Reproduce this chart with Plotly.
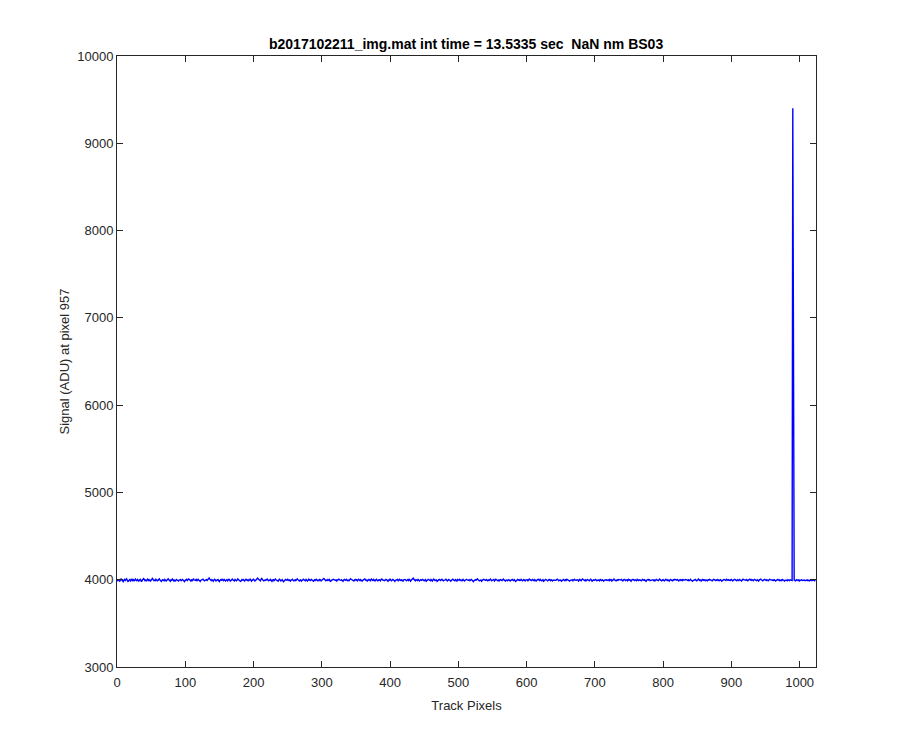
import plotly.graph_objects as go

# ---- data ----
title_text = "b2017102211_img.mat int time = 13.5335 sec \u00a0NaN nm BS03"
x_label = "Track Pixels"
y_label = "Signal (ADU) at pixel 957"

baseline_adu = 3993
# per-pixel deviation from the baseline (ADU), pixels 0..1023
deviation = [
    5,-8,12,3,-10,0,15,7,-5,-14,2,10,-3,8,17,4,-12,-6,1,10,-7,3,12,-2,6,-10,8,14,0,-5,9,2,
    -8,5,12,-3,-15,1,8,19,10,-4,3,-10,5,15,-2,7,0,-12,4,10,21,7,-3,2,-8,12,5,-5,0,9,16,4,
    -2,-12,0,8,3,-6,10,5,-8,1,12,18,7,-3,-10,5,0,14,2,-5,7,-13,-2,10,4,0,-7,3,12,8,-4,1,
    9,2,-8,-14,0,5,12,-3,7,16,10,0,-6,3,-10,7,15,5,-2,0,10,-8,4,12,2,-5,-12,1,8,4,14,2,
    -5,0,10,7,-2,12,20,27,14,5,-3,8,0,-10,4,12,3,-7,0,5,9,-5,-14,2,7,1,12,5,-3,10,0,-7,
    2,8,-5,0,12,5,-10,-3,7,14,4,0,-7,10,3,-5,5,16,7,-2,1,-12,-5,8,2,10,0,-8,4,12,3,-2,
    7,-5,2,14,5,-10,0,8,12,3,-7,-2,10,19,26,16,7,0,-5,12,21,9,3,-7,-2,5,0,10,14,4,-5,3,
    0,10,-3,-12,4,8,-5,3,14,7,-2,1,-10,5,12,3,-7,0,8,-5,-15,-8,2,10,5,0,12,7,-3,4,-8,1,
    5,12,2,-5,0,7,-3,10,17,8,1,-8,3,5,-10,-2,7,12,4,0,-5,9,3,-8,0,14,7,-2,5,10,1,-5,
    -10,3,8,0,12,5,-5,2,-3,10,7,-7,0,5,15,22,12,3,-5,1,8,-3,5,10,-8,-12,0,5,2,12,7,-2,
    0,5,-8,3,10,14,5,-3,1,7,-5,-12,2,10,5,0,12,8,-5,2,-3,9,19,12,5,-2,0,-7,4,10,3,7,
    -5,1,12,5,-3,8,2,-10,0,5,12,17,7,-2,3,-8,0,10,5,-5,7,14,2,-3,10,1,-7,4,12,3,-5,0,
    8,2,-5,10,16,5,0,-8,-3,5,12,7,1,-10,4,2,14,8,-5,0,10,5,-2,-12,0,7,3,10,-5,5,12,1,
    -3,7,0,-8,5,14,10,3,-5,1,8,-2,12,5,-10,0,5,16,24,12,3,-5,7,0,-3,10,4,-7,2,8,0,5,
    10,1,-5,3,8,-10,-2,5,12,7,0,-5,10,2,-8,4,14,7,-3,1,5,-12,-5,3,10,5,-2,7,12,0,-5,2,
    0,5,12,3,-7,1,10,4,-3,-10,2,8,14,5,0,-5,7,2,-8,10,5,0,12,7,-5,3,-2,10,4,-7,1,8,
    12,5,-3,0,7,-5,3,10,4,-7,-15,-5,2,8,0,10,17,7,2,-5,1,5,-10,3,7,12,5,-2,0,10,3,-5,
    4,-2,7,14,3,-5,1,5,10,-8,2,12,7,0,-5,3,-10,5,9,2,-3,7,14,5,0,-7,3,4,-5,10,7,0,
    -8,0,5,10,2,-3,7,1,-12,-5,4,10,3,7,-2,0,12,5,-5,2,10,0,-7,5,3,7,-5,1,14,7,2,-3,
    5,10,0,-5,7,2,-8,1,5,12,3,-2,10,4,-5,0,7,-10,-3,5,12,7,0,-5,2,10,5,-3,7,1,-8,4,
    2,7,-3,0,10,14,5,-5,1,7,3,-10,-2,5,10,3,-5,7,0,12,5,-2,2,-8,0,5,10,7,-5,3,12,4,
    -3,1,7,5,-8,2,10,0,-5,7,16,10,3,-2,5,-7,0,10,4,2,-5,7,12,3,-10,-2,5,0,8,10,3,-5,
    1,7,3,-5,10,4,-3,7,0,-10,2,5,12,7,-2,1,5,-5,10,3,7,-8,0,4,14,5,-3,2,-5,7,0,10,
    5,-2,3,10,0,-7,4,12,7,-3,1,5,-5,10,2,7,0,-10,3,5,12,4,-2,7,0,-5,10,3,-3,5,7,1,
    -5,2,10,5,0,7,-3,-12,1,5,10,3,7,-5,0,4,12,7,-2,3,-7,0,10,5,2,-3,7,14,5,0,-5,2,
    7,0,-5,4,12,3,-2,7,1,-8,5,10,2,0,-5,7,3,12,5,-3,1,10,4,-7,2,7,0,5,-3,10,4,1,
    3,10,5,-3,0,7,-5,2,12,4,1,-10,-2,7,5,10,3,-5,0,7,14,5,-2,3,-7,4,10,0,7,2,-5,5,
    0,-5,7,3,10,5,-3,1,-7,4,12,7,2,-3,5,0,10,4,-5,2,7,1,-10,-3,5,10,7,2,-2,12,4,0,
    7,2,-3,5,10,0,-7,3,7,12,4,1,-5,7,2,-3,10,5,0,-8,3,12,7,4,-2,1,10,5,-5,2,7,14,
    5,0,10,2,-5,7,12,4,0,-3,7,2,-8,5,10,14,7,1,-5,2,5,10,3,-2,7,0,-5,4,12,7,2,-3,
    1,5,-2,7,3,-7,0,4,10,2,7,-5,1,5,-3,10,4,0,-7,2,5,1,-5,7,3,-2,5,0,-7,-2,3,7,
    4,0,-5,2,7,1,-3,5,-7,0,3,5,-2,0,7,3,-5,1,3,-2,5,0,-7,2,5,1,-3,2,7,0,-5,3,
]
spike_pixel = 990
spike_value = 9400

x_range = [0, 1024]
y_range = [3000, 10000]
x_ticks = [0, 100, 200, 300, 400, 500, 600, 700, 800, 900, 1000]
y_ticks = [3000, 4000, 5000, 6000, 7000, 8000, 9000, 10000]

pixels = list(range(len(deviation)))
signal = [baseline_adu + d for d in deviation]
signal[spike_pixel] = spike_value

FONT = "Liberation Sans, Arial, Helvetica, sans-serif"
AX = "#262626"

fig = go.Figure(go.Scatter(x=pixels, y=signal, mode="lines",
                           line=dict(color="#0000ff", width=1.4)))

axis_common = dict(showgrid=False, zeroline=False, showline=True, linecolor=AX,
                   linewidth=1, mirror="ticks", ticks="inside", ticklen=6,
                   tickcolor=AX, tickwidth=1, tickformat="d",
                   tickfont=dict(family=FONT, size=13, color=AX))

fig.update_layout(
    width=900, height=750,
    paper_bgcolor="white", plot_bgcolor="white",
    margin=dict(l=109, r=92, t=48, b=91),
    showlegend=False,
    title=dict(text=title_text, x=0.509, xanchor="center", y=1 - 36 / 750, yanchor="middle",
               font=dict(family=FONT, size=14, color="black", weight="bold")),
    xaxis=dict(range=x_range, tickvals=x_ticks, ticklabelstandoff=3, **axis_common,
               title=dict(text=x_label, standoff=12, font=dict(family=FONT, size=13, color=AX))),
    yaxis=dict(range=y_range, tickvals=y_ticks, **axis_common,
               title=dict(text=y_label, standoff=4, font=dict(family=FONT, size=13, color=AX))),
)

fig.write_html("out.html")
